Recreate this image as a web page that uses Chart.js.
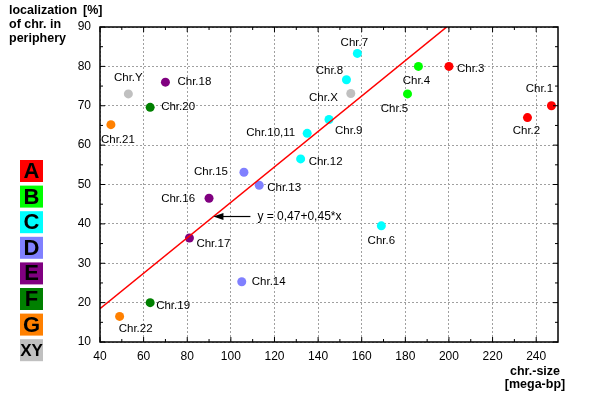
<!DOCTYPE html>
<html>
<head>
<meta charset="utf-8">
<script src="https://cdn.jsdelivr.net/npm/chart.js@4.4.1/dist/chart.umd.min.js"></script>
<style>
  body { margin: 0; background: #fff; }
  #chart { display: block; }
</style>
</head>
<body>
<canvas id="chart" width="600" height="407"></canvas>
<script>
// chromosome data
const chrLabels = ["Chr.1", "Chr.2", "Chr.3", "Chr.4", "Chr.5", "Chr.6", "Chr.7", "Chr.8", "Chr.9", "Chr.10,11",
  "Chr.12", "Chr.13", "Chr.14", "Chr.15", "Chr.16", "Chr.17", "Chr.18", "Chr.19", "Chr.20", "Chr.21", "Chr.22",
  "Chr.X", "Chr.Y"];
const chrSize = [247, 236, 200, 186, 181, 169, 158, 153, 145, 135,
  132, 113, 105, 106, 90, 81, 70, 63, 63, 45, 49,
  155, 53];
const periphery = [70, 67, 80, 80, 73, 39.5, 83.3, 76.6, 66.5, 63,
  56.5, 49.8, 25.3, 53.1, 46.5, 36.4, 76, 20, 69.6, 65.2, 16.5,
  73.1, 73];
const chrGroup = ["A", "A", "A", "B", "B", "C", "C", "C", "C", "C",
  "C", "D", "D", "D", "E", "E", "E", "F", "F", "G", "G",
  "XY", "XY"];

const groupNames = ["A", "B", "C", "D", "E", "F", "G", "XY"];
const groupColors = ["#ff0000", "#00ff00", "#00ffff", "#8080ff", "#800080", "#008000", "#ff8000", "#c0c0c0"];

// regression shown in the chart: y = 0,47 + 0,45*x
const fitIntercept = 0.47;
const fitSlope = 0.45;
const fitRange = [40, 199];

const xTicks = [40, 60, 80, 100, 120, 140, 160, 180, 200, 220, 240];
const yTicks = [10, 20, 30, 40, 50, 60, 70, 80, 90];

// where each point label sits relative to its dot: [dx, dy, align]
const labelPlacement = [
  [-12, -17, "center"], [-1, 13, "center"], [8, 2, "left"], [-2, 14, "center"], [-13, 15, "center"],
  [0, 15, "center"], [-3, -11, "center"], [-17, -9, "center"], [6, 11, "left"], [-12, 0, "right"],
  [8, 3, "left"], [8, 3, "left"], [10, 0, "left"], [-16, 0, "right"], [-14, 1, "right"],
  [7, 6, "left"], [12, 0, "left"], [6, 3, "left"], [11, 0, "left"], [7, 15, "center"],
  [16, 12, "center"], [-13, 4, "right"], [0, -16, "center"]
];

const FONT = "'Liberation Sans', Arial, sans-serif";

const groupDatasets = groupNames.map((g, gi) => {
  const pts = [];
  chrLabels.forEach((name, i) => {
    if (chrGroup[i] === g) pts.push({ x: chrSize[i], y: periphery[i] });
  });
  return {
    type: "scatter",
    label: g,
    data: pts,
    backgroundColor: groupColors[gi],
    borderWidth: 0,
    pointRadius: 4.5,
    order: 2,
  };
});

const fitDataset = {
  type: "line",
  label: "fit",
  data: fitRange.map((x) => ({ x: x, y: fitIntercept + fitSlope * x })),
  borderColor: "#ff0000",
  borderWidth: 1.5,
  pointRadius: 0,
  fill: false,
  order: 1,
};

const decorations = {
  id: "decorations",
  afterDatasetsDraw(chart) {
    const ctx = chart.ctx;
    const area = chart.chartArea;
    const xs = chart.scales.x;
    const ys = chart.scales.y;

    ctx.save();
    // frame with inner ticks
    ctx.strokeStyle = "#000";
    ctx.lineWidth = 1.5;
    ctx.strokeRect(area.left, area.top, area.right - area.left, area.bottom - area.top);
    ctx.lineWidth = 1;
    ctx.beginPath();
    xTicks.forEach((v) => {
      const px = xs.getPixelForValue(v);
      ctx.moveTo(px, area.bottom); ctx.lineTo(px, area.bottom - 5);
      ctx.moveTo(px, area.top); ctx.lineTo(px, area.top + 5);
      const pm = xs.getPixelForValue(v + 10);
      if (pm < area.right) {
        ctx.moveTo(pm, area.bottom); ctx.lineTo(pm, area.bottom - 3);
        ctx.moveTo(pm, area.top); ctx.lineTo(pm, area.top + 3);
      }
    });
    yTicks.forEach((v) => {
      const py = ys.getPixelForValue(v);
      ctx.moveTo(area.left, py); ctx.lineTo(area.left + 5, py);
      ctx.moveTo(area.right, py); ctx.lineTo(area.right - 5, py);
      if (v < 90) {
        const pm = ys.getPixelForValue(v + 5);
        ctx.moveTo(area.left, pm); ctx.lineTo(area.left + 3, pm);
        ctx.moveTo(area.right, pm); ctx.lineTo(area.right - 3, pm);
      }
    });
    ctx.stroke();

    // point labels
    ctx.fillStyle = "#000";
    ctx.font = "11.5px " + FONT;
    ctx.textBaseline = "middle";
    chrLabels.forEach((name, i) => {
      const px = xs.getPixelForValue(chrSize[i]);
      const py = ys.getPixelForValue(periphery[i]);
      const p = labelPlacement[i];
      ctx.textAlign = p[2];
      ctx.fillText(name, px + p[0], py + p[1]);
    });

    // arrow pointing at the regression line
    const tipX = 92;
    const tx = xs.getPixelForValue(tipX);
    const ty = ys.getPixelForValue(fitIntercept + fitSlope * tipX);
    ctx.beginPath();
    ctx.moveTo(tx + 8, ty);
    ctx.lineTo(tx + 37, ty);
    ctx.lineWidth = 1.2;
    ctx.stroke();
    ctx.beginPath();
    ctx.moveTo(tx, ty);
    ctx.lineTo(tx + 10, ty - 3.5);
    ctx.lineTo(tx + 10, ty + 3.5);
    ctx.closePath();
    ctx.fill();
    ctx.font = "12px " + FONT;
    ctx.textAlign = "left";
    ctx.fillText("y = 0,47+0,45*x", tx + 44, ty);
    ctx.restore();
  },
  afterDraw(chart) {
    const ctx = chart.ctx;
    ctx.save();
    // group legend at the left
    groupNames.forEach((g, i) => {
      const y = 160 + i * 25.6;
      ctx.fillStyle = groupColors[i];
      ctx.fillRect(20, y, 23, 22);
      ctx.fillStyle = "#000";
      ctx.font = "bold " + (g === "XY" ? 17 : 22) + "px " + FONT;
      ctx.textAlign = "center";
      ctx.textBaseline = "middle";
      ctx.fillText(g, 31.5, y + 12);
    });

    // axis titles
    ctx.font = "bold 12.5px " + FONT;
    ctx.textAlign = "left";
    ctx.fillText("localization", 9, 11);
    ctx.fillText("[%]", 83, 11);
    ctx.fillText("of chr. in", 9, 25);
    ctx.fillText("periphery", 9, 39);
    ctx.textAlign = "center";
    ctx.fillText("chr.-size", 535, 372);
    ctx.fillText("[mega-bp]", 535, 385);
    ctx.restore();
  },
};

const config = {
  data: {
    datasets: [fitDataset].concat(groupDatasets),
  },
  options: {
    responsive: false,
    animation: false,
    devicePixelRatio: 1,
    layout: {
      padding: { left: 0, top: 27, right: 42, bottom: 0 },
    },
    scales: {
      x: {
        type: "linear",
        min: 40,
        max: 250,
        bounds: "data",
        afterFit: (scale) => { scale.height = 65; },
        afterBuildTicks: (scale) => { scale.ticks = xTicks.map((v) => ({ value: v })); },
        ticks: {
          color: "#000",
          padding: 7,
          maxRotation: 0,
          font: { family: FONT, size: 12 },
        },
        grid: { color: "#a0a0a0", lineWidth: 1, drawTicks: false },
        border: { display: false, dash: [2, 2] },
      },
      y: {
        type: "linear",
        min: 10,
        max: 90,
        bounds: "data",
        afterFit: (scale) => { scale.width = 100; },
        afterBuildTicks: (scale) => { scale.ticks = yTicks.map((v) => ({ value: v })); },
        ticks: {
          color: "#000",
          padding: 9,
          font: { family: FONT, size: 12 },
        },
        grid: { color: "#a0a0a0", lineWidth: 1, drawTicks: false },
        border: { display: false, dash: [2, 2] },
      },
    },
    plugins: {
      legend: { display: false },
      tooltip: { enabled: false },
    },
  },
  plugins: [decorations],
};

const chart = new Chart(document.getElementById("chart"), config);
</script>
</body>
</html>
